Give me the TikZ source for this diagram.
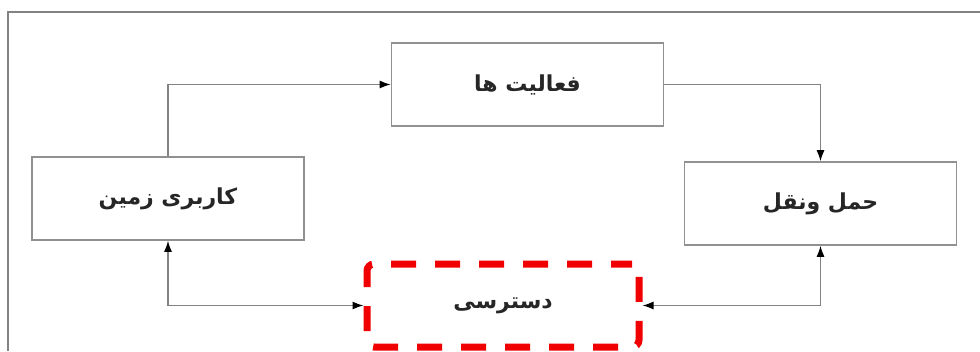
\documentclass[tikz,border=0pt]{standalone}
\usepackage{fontspec}
\newfontfamily\arabicfont[Script=Arabic]{DejaVu Sans}
\TeXXeTstate=1
\usetikzlibrary{arrows.meta}
\definecolor{framegray}{RGB}{130,130,130}
\definecolor{boxgray}{RGB}{145,145,145}
\definecolor{dashred}{RGB}{240,0,0}
\tikzset{
  fa/.style={font=\arabicfont\bfseries\fontsize{22}{26}\selectfont, text=black!85},
  stagebox/.style={draw=boxgray, line width=1.6pt, fill=white, minimum width=272pt,
    minimum height=83pt, inner sep=0pt, fa},
  accessbox/.style={draw=dashred, line width=7pt, dash pattern=on 25pt off 19pt,
    dash phase=4pt, rounded corners=7pt, minimum width=272pt, minimum height=83pt,
    inner sep=0pt, fa},
  link/.style={draw=framegray, line width=1.3pt,
    -{Latex[length=11pt,width=8pt,color=black]}},
  dlink/.style={draw=framegray, line width=1.3pt,
    {Latex[length=11pt,width=8pt,color=black]}-{Latex[length=11pt,width=8pt,color=black]}},
}
\begin{document}
\begin{tikzpicture}[x=1pt,y=-1pt]
\useasboundingbox[fill=white] (0,0) rectangle (980,351);
% outer frame
\draw[framegray, line width=1.3pt] (8,351) -- (8,12) -- (980,12);

% stages of the cycle
\node[stagebox] (act) at (527.5,84.5) {\beginR فعالیت ها\endR};
\node[stagebox] (land) at (168,198.5) {\beginR کاربری زمین\endR};
\node[stagebox] (trans) at (820.5,203.5) {\beginR حمل ونقل\endR};
\node[accessbox] (acc) at (503,305.5) {\beginR دسترسی\endR};

% connectors
\draw[link] (land.north) |- (act.west);
\draw[link] (act.east) -| (trans.north);
\draw[dlink] (land.south) |- (acc.west);
\draw[dlink] (trans.south) |- (acc.east);
\end{tikzpicture}
\end{document}
